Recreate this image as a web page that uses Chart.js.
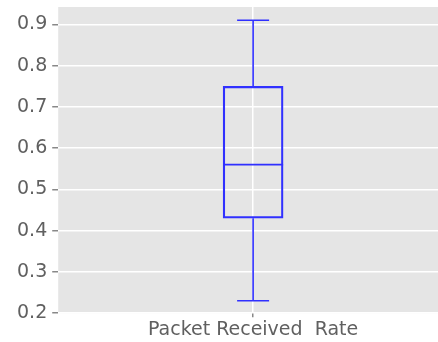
<!DOCTYPE html>
<html>
<head>
<meta charset="utf-8">
<script src="https://cdn.jsdelivr.net/npm/chart.js@4"></script>
<style>
  html, body { margin: 0; padding: 0; background: #fff; overflow: hidden; }
  #wrap { width: 448px; height: 342px; }
</style>
</head>
<body>
<div id="wrap"><canvas id="my_box_chart"></canvas></div>
<script>
// box plot data
const categories = ["Packet Received  Rate"];
const whiskerLow = [0.23];
const q1 = [0.43];
const median = [0.56];
const q3 = [0.75];
const whiskerHigh = [0.91];
const yTicks = [0.2, 0.3, 0.4, 0.5, 0.6, 0.7, 0.8, 0.9];

const boxColor = "#3030ff";

// gray panel behind plot
const panelBg = {
  id: "panelBg",
  beforeDraw(chart) {
    const { ctx, chartArea } = chart;
    ctx.save();
    ctx.fillStyle = "#e5e5e5";
    ctx.fillRect(chartArea.left, chartArea.top, chartArea.right - chartArea.left, chartArea.bottom - chartArea.top);
    ctx.restore();
  },
};

// whiskers + median line
const boxExtras = {
  id: "boxExtras",
  afterDatasetsDraw(chart) {
    const { ctx } = chart;
    const x = chart.scales.x;
    const y = chart.scales.y;
    const meta = chart.getDatasetMeta(0);
    ctx.save();
    ctx.strokeStyle = boxColor;
    ctx.lineWidth = 1.6;
    for (let i = 0; i < categories.length; i++) {
      const cx = x.getPixelForValue(i);
      const half = meta.data[i].width / 2;
      const cap = 16;
      ctx.beginPath();
      // median
      ctx.moveTo(cx - half, y.getPixelForValue(median[i]));
      ctx.lineTo(cx + half, y.getPixelForValue(median[i]));
      // upper whisker
      ctx.moveTo(cx, y.getPixelForValue(q3[i]));
      ctx.lineTo(cx, y.getPixelForValue(whiskerHigh[i]));
      ctx.moveTo(cx - cap, y.getPixelForValue(whiskerHigh[i]));
      ctx.lineTo(cx + cap, y.getPixelForValue(whiskerHigh[i]));
      // lower whisker
      ctx.moveTo(cx, y.getPixelForValue(q1[i]));
      ctx.lineTo(cx, y.getPixelForValue(whiskerLow[i]));
      ctx.moveTo(cx - cap, y.getPixelForValue(whiskerLow[i]));
      ctx.lineTo(cx + cap, y.getPixelForValue(whiskerLow[i]));
      ctx.stroke();
    }
    ctx.restore();
  },
};

const box_chart = document.getElementById("my_box_chart");
new Chart(box_chart, {
  type: "bar",
  data: {
    labels: categories,
    datasets: [
      {
        label: "Box",
        data: categories.map((c, i) => [q1[i], q3[i]]),
        backgroundColor: "rgba(0,0,0,0)",
        borderColor: boxColor,
        borderWidth: 1.6,
        borderSkipped: false,
        barThickness: 60,
      },
    ],
  },
  options: {
    responsive: true,
    maintainAspectRatio: false,
    animation: false,
    layout: { padding: { top: 7, left: 12, right: 0, bottom: 0 } },
    plugins: {
      legend: { display: false },
      tooltip: { enabled: false },
    },
    scales: {
      x: {
        grid: { color: "#ffffff", lineWidth: 1.5, offset: false, tickColor: "#888", tickLength: 4 },
        border: { display: false },
        ticks: { color: "#606060", font: { family: "DejaVu Sans", size: 19 }, padding: 1 },
      },
      y: {
        min: 0.2,
        max: 0.942,
        afterBuildTicks: (axis) => {
          axis.ticks = yTicks.map((v) => ({ value: v }));
        },
        afterFit: (axis) => {
          axis.paddingTop = 0;
          axis.paddingBottom = 0;
        },
        grid: { color: "#ffffff", lineWidth: 1.5, tickColor: "#888", tickLength: 6 },
        border: { display: false },
        ticks: {
          color: "#606060",
          font: { family: "DejaVu Sans", size: 19 },
          padding: 5,
          callback: (v) => v.toFixed(1),
        },
      },
    },
  },
  plugins: [panelBg, boxExtras],
});
</script>
</body>
</html>
